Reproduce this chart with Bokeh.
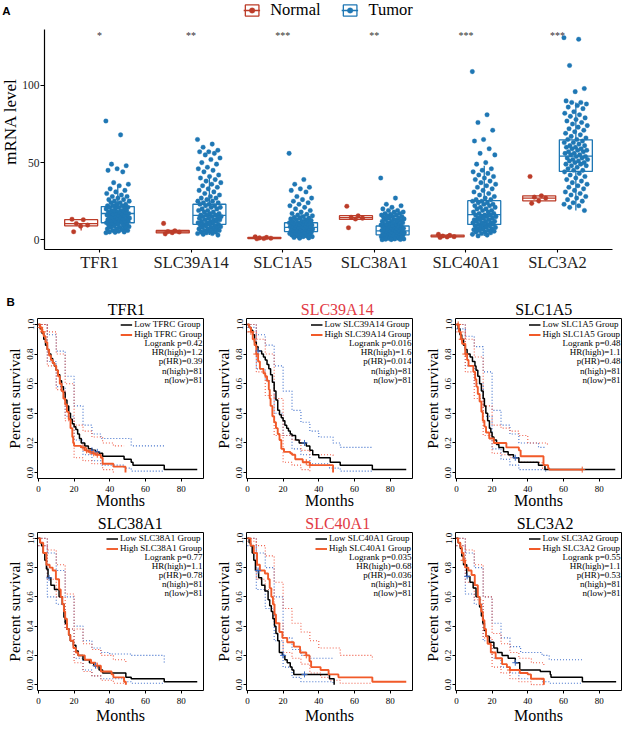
import math
import numpy as np
from bokeh.plotting import figure
from bokeh.layouts import column, row
from bokeh.models import (Range1d, FixedTicker, Label, Legend, LegendItem,
                          PrintfTickFormatter)
from bokeh.core.properties import value
from bokeh.embed import file_html
from bokeh.resources import INLINE

SERIF = "Liberation Serif"
SANS = "Liberation Sans"

# ---------------- Panel A data ----------------
genes = ["TFR1", "SLC39A14", "SLC1A5", "SLC38A1", "SLC40A1", "SLC3A2"]
stars = ["*", "**", "***", "**", "***", "***"]
y_ticks_A = [0, 50, 100]

TFR1_normal = [13.3, 13.0, 10.5, 9.5, 8.8, 5.2]
SLC39A14_normal = [10.6, 5.8, 5.3, 5.0, 4.6, 3.8]
SLC1A5_normal = [1.9, 1.5, 1.2, 1.0, 0.8, 0.6]
SLC38A1_normal = [21.7, 15.5, 14.6, 14.0, 13.4, 7.8]
SLC40A1_normal = [3.5, 2.8, 2.4, 2.0, 1.8, 1.5]
SLC3A2_normal = [41.0, 28.5, 27.6, 27.0, 25.2, 23.6]

TFR1_tumor = [77, 68, 49, 48, 46, 45, 44, 37, 36, 35, 33, 32, 31, 30, 29, 28, 28, 27, 26, 26,
              25, 25, 24, 24, 23, 23, 22, 22, 22, 21, 21, 21, 20, 20, 20, 19, 19, 19, 18, 18,
              18, 18, 17, 17, 17, 17, 16, 16, 16, 16, 15, 15, 15, 15, 14, 14, 14, 14, 13, 13,
              13, 13, 12, 12, 12, 12, 11, 11, 11, 11, 10, 10, 10, 9.5, 9, 9, 8.5, 8, 8, 7.5,
              7, 7, 6.5, 6, 6, 5.5, 5, 5, 4.8, 4.5]
SLC39A14_tumor = [65, 62, 60, 58, 57, 57, 56, 55, 53, 52, 50, 49, 47, 46, 45, 44, 42, 41, 40, 39,
                  38, 37, 36, 35, 34, 33, 32, 31, 30, 29, 28, 27, 27, 26, 25, 25, 24, 24, 23, 23,
                  22, 22, 21, 21, 20, 20, 19, 19, 18, 18, 17, 17, 16, 16, 16, 15, 15, 15, 14, 14,
                  14, 13, 13, 13, 12, 12, 12, 11, 11, 11, 10, 10, 10, 9.5, 9, 9, 8.5, 8, 8, 7.5,
                  7, 7, 6.5, 6, 6, 5.5, 5, 5, 4.5, 4, 4, 3.5, 3]
SLC1A5_tumor = [56, 39, 36, 34, 33, 32, 31, 28, 27, 26, 25, 24, 23, 22, 21, 20, 19, 18, 17, 16.5,
                16, 15.5, 15, 14.5, 14, 14, 13.5, 13, 13, 12.5, 12, 12, 11.5, 11, 11, 11, 10.5,
                10.5, 10, 10, 10, 9.5, 9.5, 9, 9, 9, 8.5, 8.5, 8, 8, 8, 7.5, 7.5, 7, 7, 7, 6.5,
                6.5, 6, 6, 6, 5.5, 5.5, 5, 5, 5, 4.5, 4.5, 4, 4, 3.5, 3.5, 3, 3, 2.5, 2.5, 2, 2,
                1.5, 1.2, 1]
SLC38A1_tumor = [40, 27, 23, 22, 21, 20, 19, 19, 18, 18, 17, 17, 16.5, 16, 16, 15.5, 15, 15, 14.5,
                 14, 14, 13.5, 13, 13, 12.5, 12, 12, 11.5, 11, 11, 10.5, 10, 10, 9.5, 9.5, 9, 9,
                 8.5, 8.5, 8, 8, 7.5, 7.5, 7, 7, 6.5, 6.5, 6, 6, 6, 5.5, 5.5, 5, 5, 5, 4.5, 4.5,
                 4, 4, 4, 3.5, 3.5, 3, 3, 3, 2.5, 2.5, 2, 2, 2, 1.5, 1.5, 1, 1, 1, 0.8, 0.5, 0.5,
                 0.3, 0.2, 0.1, 0]
SLC40A1_tumor = [109, 81, 76, 71, 65, 64, 59, 56, 55, 50, 49, 46, 45, 44, 43, 42, 41, 40, 39, 38,
                 37, 36, 35, 34, 33, 32, 31, 30, 29, 28, 27, 26, 26, 25, 25, 24, 24, 23, 23, 22,
                 22, 21, 21, 20, 20, 19, 19, 18, 18, 17, 17, 16, 16, 16, 15, 15, 15, 14, 14, 14,
                 13, 13, 13, 12, 12, 12, 11, 11, 11, 10, 10, 10, 9.5, 9, 9, 8.5, 8, 8, 7.5, 7, 7,
                 6.5, 6, 6, 5.5, 5, 5, 4.5, 4, 3.5, 3, 2.5]
SLC3A2_tumor = [131, 130, 113, 98, 96, 90, 89, 89, 88, 87, 86, 85, 83, 82, 81, 80, 79, 78, 77, 76,
                75, 74, 73, 72, 71, 70, 69, 68, 67, 66, 65, 65, 64, 63, 63, 62, 61, 61, 60, 60,
                59, 59, 58, 58, 57, 57, 56, 56, 55, 55, 54, 54, 53, 53, 52, 52, 51, 51, 50, 50,
                49, 49, 48, 48, 47, 46, 45, 45, 44, 43, 42, 41, 40, 39, 38, 37, 36, 35, 34, 33,
                32, 31, 30, 29, 28, 27, 26, 25, 24, 23, 22, 21, 19]

# box stats: (lower whisker, q1, median, q3, upper whisker)
normal_box = [(6.0, 9.0, 10.5, 13.0, 13.3), (3.8, 4.4, 5.1, 6.0, 6.5), (0.6, 0.8, 1.1, 1.5, 1.9),
              (13.0, 13.2, 14.3, 15.6, 15.8), (1.5, 1.8, 2.4, 3.0, 3.5), (23.6, 25.2, 27.0, 28.5, 28.8)]
tumor_box = [(4.5, 11.0, 17.0, 21.5, 35.0), (3.0, 10.0, 15.8, 23.0, 42.0), (1.0, 5.3, 8.0, 11.0, 19.0),
             (0.0, 3.2, 5.7, 8.9, 17.0), (2.5, 9.9, 16.3, 25.3, 48.0), (19.0, 44.3, 54.2, 64.8, 89.0)]

normal_pts = [TFR1_normal, SLC39A14_normal, SLC1A5_normal, SLC38A1_normal, SLC40A1_normal, SLC3A2_normal]
tumor_pts = [TFR1_tumor, SLC39A14_tumor, SLC1A5_tumor, SLC38A1_tumor, SLC40A1_tumor, SLC3A2_tumor]

# ---------------- Panel B data (Kaplan-Meier) ----------------
KM_XTICKS = [0, 20, 40, 60, 80]
KM_YTICKS = [0.0, 0.2, 0.4, 0.6, 0.8, 1.0]

TFR1_low = [(0,1.0),(1,0.97),(2,0.94),(3,0.9),(4,0.86),(5,0.83),(6,0.8),(7,0.77),(8,0.74),(9,0.72),(10,0.69),(11,0.66),(12,0.62),(13,0.58),(14,0.54),(15,0.49),(16,0.45),(17,0.4),(18,0.36),(19,0.33),(20,0.31),(21,0.29),(22,0.26),(23,0.23),(24,0.2),(26,0.18),(28,0.16),(30,0.15),(32,0.14),(34,0.13),(36,0.11),(48,0.09),(52,0.07),(53,0.05),(70.5,0.02),(89,0.02)]
TFR1_high = [(0,1.0),(1,0.98),(2,0.95),(3,0.92),(4,0.88),(5,0.83),(6,0.79),(7,0.76),(8,0.74),(9,0.72),(10,0.69),(11,0.65),(12,0.6),(13,0.55),(14,0.5),(15,0.46),(16,0.41),(17,0.36),(18,0.3),(19,0.24),(19.5,0.2),(20,0.18),(24,0.17),(26,0.15),(28,0.14),(30,0.13),(32,0.12),(35,0.1),(36,0.06),(42,0.04),(48.8,0.0)]
TFR1_low_up = [(0,1),(5,0.93),(10,0.82),(15,0.65),(20,0.45),(25,0.32),(30,0.26),(35,0.23),(52,0.18),(70.5,0.18)]
TFR1_low_lo = [(0,1),(5,0.75),(10,0.58),(15,0.38),(20,0.22),(25,0.12),(30,0.08),(35,0.05),(48,0.03),(52,0.01),(70.5,0.01)]
TFR1_high_up = [(0,1),(5,0.95),(10,0.8),(15,0.6),(20,0.32),(25,0.28),(30,0.24),(36,0.2),(42,0.18),(48,0.18)]
TFR1_high_lo = [(0,1),(5,0.72),(10,0.56),(15,0.35),(20,0.1),(25,0.08),(30,0.06),(36,0.02),(42,0.0)]
TFR1_low_cens = [30, 33]
TFR1_high_cens = [1, 2.5, 25, 27, 29, 31, 33]

SLC39A14_low = [(0,1.0),(1,0.98),(2,0.96),(3,0.93),(4,0.88),(5,0.85),(6,0.82),(8,0.8),(9,0.78),(10,0.76),(11,0.73),(12,0.7),(13,0.66),(14,0.61),(15,0.55),(16,0.49),(17,0.42),(18,0.39),(19,0.37),(20,0.35),(21,0.32),(22,0.3),(23,0.28),(24,0.26),(25,0.25),(27,0.22),(29,0.2),(33,0.18),(35,0.15),(36.6,0.12),(40,0.1),(46.4,0.07),(52,0.05),(70,0.02),(89,0.02)]
SLC39A14_high = [(0,1.0),(1,0.98),(2,0.95),(3,0.9),(4,0.86),(5,0.8),(6,0.75),(7,0.7),(9,0.67),(10,0.65),(11,0.62),(12,0.56),(12.5,0.5),(13,0.45),(14,0.38),(15,0.34),(16,0.3),(17,0.26),(18,0.22),(19,0.16),(20.5,0.14),(24,0.13),(25,0.12),(26.8,0.09),(31,0.07),(35,0.05),(48,0.0)]
SLC39A14_low_up = [(0,1),(5,0.93),(10,0.86),(15,0.72),(20,0.55),(25,0.42),(30,0.34),(35,0.28),(40,0.24),(48,0.2),(52,0.17),(70,0.17)]
SLC39A14_low_lo = [(0,0.98),(5,0.7),(10,0.62),(15,0.4),(20,0.25),(25,0.16),(30,0.12),(35,0.06),(46,0.03),(52,0.01),(70,0.01)]
SLC39A14_high_up = [(0,1),(5,0.9),(10,0.8),(15,0.5),(20,0.25),(25,0.22),(30,0.15),(35,0.12),(48,0.1)]
SLC39A14_high_lo = [(0,0.95),(5,0.68),(10,0.52),(15,0.25),(20,0.07),(25,0.05),(30,0.02),(35,0.0)]
SLC39A14_low_cens = [6, 32]
SLC39A14_high_cens = [2, 5, 33, 35]

SLC1A5_low = [(0,1.0),(1,0.97),(2,0.93),(3,0.9),(4,0.86),(5,0.83),(6,0.8),(7.7,0.78),(9,0.75),(10.4,0.72),(11,0.69),(12,0.65),(13,0.6),(14,0.55),(15,0.5),(15.7,0.45),(16.5,0.4),(17.5,0.35),(18.5,0.3),(19.3,0.27),(20,0.24),(21,0.22),(22.5,0.19),(23.8,0.17),(26.4,0.14),(29,0.12),(32,0.1),(35,0.07),(46,0.05),(49.6,0.02),(89,0.02)]
SLC1A5_high = [(0,1.0),(1.4,0.95),(2.5,0.9),(3.2,0.87),(5,0.8),(6,0.76),(6.8,0.72),(9.5,0.68),(10.5,0.63),(11.2,0.58),(12,0.53),(13,0.48),(14,0.41),(14.8,0.35),(15.7,0.31),(16.6,0.27),(18.4,0.23),(21,0.2),(28,0.17),(35,0.15),(36,0.11),(47.9,0.11),(48.8,0.05),(51.4,0.03),(52,0.02),(70.5,0.02)]
SLC1A5_low_up = [(0,1),(5,0.92),(10,0.85),(15,0.68),(20,0.42),(25,0.32),(30,0.26),(35,0.2),(46,0.17),(50,0.17)]
SLC1A5_low_lo = [(0,0.97),(5,0.72),(10,0.6),(15,0.38),(20,0.16),(25,0.09),(30,0.05),(35,0.02),(50,0.0)]
SLC1A5_high_up = [(0,1),(5,0.9),(10,0.78),(15,0.45),(20,0.32),(25,0.3),(30,0.28),(35,0.25),(40,0.2),(48,0.2),(51,0.19)]
SLC1A5_high_lo = [(0,0.95),(5,0.68),(10,0.5),(15,0.25),(20,0.13),(25,0.12),(30,0.1),(35,0.07),(48,0.03),(51,0.01)]
SLC1A5_low_cens = [33]
SLC1A5_high_cens = [1, 3, 5, 70.5]

SLC38A1_low = [(0,1.0),(1,0.97),(1.8,0.95),(2.7,0.9),(3.6,0.85),(4.5,0.79),(5.4,0.73),(7,0.68),(9,0.65),(11.6,0.6),(13.4,0.55),(14.3,0.46),(15,0.42),(16,0.38),(17,0.34),(17.9,0.3),(19.6,0.27),(21,0.23),(22.3,0.2),(25,0.17),(28.6,0.15),(31,0.13),(34,0.1),(36,0.08),(49,0.05),(52,0.04),(70.5,0.02),(89,0.02)]
SLC38A1_high = [(0,1.0),(1,0.97),(2.7,0.9),(4.5,0.82),(6.3,0.8),(8,0.78),(9.8,0.72),(11.6,0.65),(12.5,0.6),(13.4,0.55),(14.3,0.5),(15,0.45),(16,0.38),(17,0.34),(17.9,0.3),(19.6,0.25),(21,0.22),(22.3,0.2),(26,0.17),(29.5,0.15),(32,0.13),(35,0.09),(41,0.07),(42,0.05),(48,0.02),(49,0.0)]
SLC38A1_low_up = [(0,1),(5,0.9),(10,0.78),(15,0.6),(20,0.4),(25,0.3),(30,0.25),(35,0.22),(40,0.21),(52,0.2),(70.5,0.15)]
SLC38A1_low_lo = [(0,0.95),(5,0.6),(10,0.55),(15,0.38),(20,0.18),(25,0.1),(30,0.06),(35,0.04),(48,0.02),(52,0.01),(70.5,0.01)]
SLC38A1_high_up = [(0,1),(5,0.92),(10,0.82),(15,0.62),(20,0.38),(25,0.28),(30,0.24),(35,0.2),(42,0.17),(49,0.15)]
SLC38A1_high_lo = [(0,0.95),(5,0.72),(10,0.6),(15,0.38),(20,0.15),(25,0.09),(30,0.06),(35,0.03),(42,0.01),(49,0.0)]
SLC38A1_low_cens = [6, 32]
SLC38A1_high_cens = [33]

SLC40A1_low = [(0,1.0),(1,0.97),(1.8,0.95),(2.7,0.9),(3.6,0.85),(4.5,0.78),(6.3,0.73),(8,0.68),(9.8,0.64),(11.6,0.58),(12.5,0.54),(13.4,0.5),(14.3,0.45),(15.2,0.4),(16,0.35),(17,0.3),(17.9,0.22),(19.6,0.2),(21,0.17),(22.3,0.15),(24,0.12),(25,0.1),(26,0.07),(46,0.04),(48.6,0.0)]
SLC40A1_high = [(0,1.0),(1.8,0.95),(3.6,0.9),(5.4,0.82),(7,0.78),(9.8,0.76),(11.6,0.72),(12.5,0.66),(13.4,0.6),(14.3,0.55),(15.2,0.48),(16,0.42),(17.9,0.36),(19.6,0.32),(22.3,0.29),(26,0.26),(29.5,0.22),(33,0.2),(34.8,0.16),(35.7,0.12),(41,0.1),(45.5,0.07),(51,0.05),(70,0.02),(89,0.02)]
SLC40A1_low_up = [(0,1),(5,0.9),(10,0.8),(15,0.6),(20,0.32),(25,0.24),(30,0.2),(35,0.18),(48,0.18)]
SLC40A1_low_lo = [(0,0.95),(5,0.65),(10,0.52),(15,0.3),(20,0.12),(25,0.05),(30,0.02),(48,0.01)]
SLC40A1_high_up = [(0,1),(5,0.95),(10,0.88),(15,0.7),(20,0.52),(25,0.42),(30,0.36),(35,0.3),(40,0.25),(52,0.2),(70,0.17)]
SLC40A1_high_lo = [(0,0.98),(5,0.72),(10,0.65),(15,0.42),(20,0.22),(25,0.18),(30,0.14),(35,0.08),(41,0.05),(46,0.03),(52,0.01),(70,0.01)]
SLC40A1_low_cens = [6, 20, 32]
SLC40A1_high_cens = [33]

SLC3A2_low = [(0,1.0),(1,0.97),(2.2,0.93),(3,0.88),(4,0.82),(5.8,0.74),(7.6,0.7),(9.4,0.66),(11,0.6),(13,0.53),(14,0.47),(14.8,0.42),(15.7,0.37),(16.6,0.33),(18.4,0.29),(21,0.25),(23,0.22),(25.6,0.2),(29,0.18),(33,0.15),(35.5,0.1),(47,0.09),(52.6,0.07),(53,0.05),(70.6,0.02),(89.5,0.02)]
SLC3A2_high = [(0,1.0),(1,0.97),(2.2,0.94),(3,0.9),(4,0.85),(4.9,0.8),(6.7,0.78),(8.5,0.75),(10.3,0.68),(12,0.6),(13,0.55),(13.9,0.5),(14.8,0.44),(15.7,0.38),(16.6,0.33),(17.5,0.28),(19.3,0.22),(22,0.18),(25.6,0.14),(28.3,0.12),(30,0.1),(35.5,0.08),(40,0.07),(41.8,0.04),(49,0.0)]
SLC3A2_low_up = [(0,1),(5,0.9),(10,0.8),(15,0.6),(20,0.42),(25,0.32),(30,0.26),(36,0.22),(48,0.2),(52,0.17),(70.6,0.17)]
SLC3A2_low_lo = [(0,0.95),(5,0.62),(10,0.55),(15,0.3),(20,0.18),(25,0.12),(30,0.08),(35,0.04),(48,0.02),(52,0.01),(70.6,0.01)]
SLC3A2_high_up = [(0,1),(5,0.92),(10,0.82),(15,0.6),(20,0.35),(25,0.28),(30,0.22),(35,0.18),(42,0.15),(49,0.12)]
SLC3A2_high_lo = [(0,0.95),(5,0.7),(10,0.58),(15,0.32),(20,0.12),(25,0.08),(30,0.04),(35,0.02),(42,0.0),(49,0.0)]
SLC3A2_low_cens = [6, 33]
SLC3A2_high_cens = [4, 30]

km_titles = ["TFR1", "SLC39A14", "SLC1A5", "SLC38A1", "SLC40A1", "SLC3A2"]
km_title_red = [False, True, False, False, True, False]
km_group_names = ["TFRC", "SLC39A14", "SLC1A5", "SLC38A1", "SLC40A1", "SLC3A2"]
km_logrank = ["0.42", "0.016", "0.48", "0.77", "0.035", "0.55"]
km_hr = ["1.2", "1.6", "1.1", "1.1", "0.68", "1.1"]
km_phr = ["0.39", "0.014", "0.48", "0.78", "0.036", "0.53"]
km_nhigh = [81, 81, 81, 81, 81, 81]
km_nlow = [81, 81, 81, 81, 81, 81]
km_curves = [
    (TFR1_low, TFR1_high, TFR1_low_up, TFR1_low_lo, TFR1_high_up, TFR1_high_lo, TFR1_low_cens, TFR1_high_cens),
    (SLC39A14_low, SLC39A14_high, SLC39A14_low_up, SLC39A14_low_lo, SLC39A14_high_up, SLC39A14_high_lo, SLC39A14_low_cens, SLC39A14_high_cens),
    (SLC1A5_low, SLC1A5_high, SLC1A5_low_up, SLC1A5_low_lo, SLC1A5_high_up, SLC1A5_high_lo, SLC1A5_low_cens, SLC1A5_high_cens),
    (SLC38A1_low, SLC38A1_high, SLC38A1_low_up, SLC38A1_low_lo, SLC38A1_high_up, SLC38A1_high_lo, SLC38A1_low_cens, SLC38A1_high_cens),
    (SLC40A1_low, SLC40A1_high, SLC40A1_low_up, SLC40A1_low_lo, SLC40A1_high_up, SLC40A1_high_lo, SLC40A1_low_cens, SLC40A1_high_cens),
    (SLC3A2_low, SLC3A2_high, SLC3A2_low_up, SLC3A2_low_lo, SLC3A2_high_up, SLC3A2_high_lo, SLC3A2_low_cens, SLC3A2_high_cens),
]

# ---------------- styles ----------------
RED = "#BC3C29"
BLUE = "#1F77B4"
HIGH = "#F15A29"
CI_BLUE = "#3F6FCB"
CI_RED = "#EF5A45"
TITLE_RED = "#E23A45"


def strip(width, height):
    """A blank figure whose whole canvas is its frame, used to hold free text."""
    s = figure(width=width, height=height, x_range=Range1d(0, width), y_range=Range1d(0, height),
               x_axis_type=None, y_axis_type=None, output_backend="svg", toolbar_location=None,
               min_border_left=0, min_border_right=0, min_border_top=0, min_border_bottom=0)
    s.outline_line_color = None
    s.grid.visible = False
    return s


# ================= Panel A figure =================
STRIP_A_W = 19
Y_LO, Y_HI, Y_AXIS_TOP = -6.33, 155.1, 136.1
pA = figure(width=627 - STRIP_A_W, height=288, x_range=Range1d(0.4, 6.6),
            y_range=Range1d(Y_LO, Y_HI), output_backend="svg", toolbar_location=None,
            min_border_left=41 - STRIP_A_W, min_border_right=15, min_border_top=0,
            min_border_bottom=39)
pA.outline_line_color = None
pA.grid.visible = False

DODGE, HALF_W = 0.2, 0.18
JIT_N, JIT_T = 0.1, 0.13


def jitter(n, w):
    return [((i * 0.6180339887) % 1.0 - 0.5) * 2 * w for i in range(n)]


legend_r = {}
for grp, boxes, pts, col, dx, jw in (("Normal", normal_box, normal_pts, RED, -DODGE, JIT_N),
                                       ("Tumor", tumor_box, tumor_pts, BLUE, DODGE, JIT_T)):
    cx = [i + 1 + dx for i in range(len(genes))]
    lo = [b[0] for b in boxes]
    q1 = [b[1] for b in boxes]
    md = [b[2] for b in boxes]
    q3 = [b[3] for b in boxes]
    hi = [b[4] for b in boxes]
    pA.segment(x0=cx, y0=q3, x1=cx, y1=hi, line_color=col, line_width=1.3)
    pA.segment(x0=cx, y0=lo, x1=cx, y1=q1, line_color=col, line_width=1.3)
    qr = pA.quad(left=[c - HALF_W for c in cx], right=[c + HALF_W for c in cx], bottom=q1, top=q3,
                 fill_color="white", line_color=col, line_width=1.3)
    mr = pA.segment(x0=[c - HALF_W for c in cx], y0=md, x1=[c + HALF_W for c in cx], y1=md,
                    line_color=col, line_width=1.3)
    xs, ys = [], []
    for i, vals in enumerate(pts):
        offs = jitter(len(vals), jw)
        xs += [cx[i] + o for o in offs]
        ys += list(vals)
    sr = pA.scatter(xs, ys, size=4.6, fill_color=col, line_color=col, line_width=0.3)
    legend_r[grp] = [qr, mr, sr]

STAR_Y = 132.5
pA.text(x=[i + 1 for i in range(len(genes))], y=[STAR_Y] * len(genes), text=stars,
        text_font=value(SERIF), text_font_size=value("10px"), text_align="center",
        text_baseline="middle", text_color="#333333")

pA.xaxis.ticker = FixedTicker(ticks=[i + 1 for i in range(len(genes))])
pA.xaxis.major_label_overrides = {i + 1: g for i, g in enumerate(genes)}
pA.yaxis.ticker = FixedTicker(ticks=y_ticks_A)
pA.yaxis.bounds = (Y_LO, Y_AXIS_TOP)
for ax in (pA.xaxis[0], pA.yaxis[0]):
    ax.axis_line_color = "black"
    ax.axis_line_width = 1.2
    ax.major_tick_line_color = "black"
    ax.major_tick_line_width = 1.1
    ax.major_tick_in = 0
    ax.minor_tick_line_color = None
    ax.major_label_text_font = SERIF
    ax.major_label_text_color = "#222222"
pA.xaxis.major_tick_out = 3
pA.xaxis.major_label_text_font_size = "16.5px"
pA.xaxis.major_label_standoff = 0
pA.yaxis.major_tick_out = 4
pA.yaxis.major_label_text_font_size = "11.5px"
pA.yaxis.major_label_standoff = 1

legA = Legend(items=[LegendItem(label="Normal", renderers=legend_r["Normal"]),
                     LegendItem(label="Tumor", renderers=legend_r["Tumor"])],
              location="top_center", orientation="horizontal", margin=0, padding=0,
              spacing=21, glyph_width=17, glyph_height=14, label_standoff=10,
              label_text_font=SERIF, label_text_font_size="16.5px", label_text_color="black",
              border_line_color=None, background_fill_alpha=0)
pA.add_layout(legA)

# left strip holding the panel letter and the y-axis title of panel A
sA = strip(STRIP_A_W, 288)
sA.add_layout(Label(x=5.9, y=288 - 12.7, text="A", text_align="center",
                    text_baseline="alphabetic", text_font=SANS, text_font_style="bold",
                    text_font_size="11.5px", text_color="black"))
sA.add_layout(Label(x=9.5, y=288 - 140.0, text="mRNA level", angle=math.pi / 2,
                    text_align="center", text_baseline="middle", text_font=SERIF,
                    text_font_size="17px", text_color="black"))

# ================= Panel B figures =================
X_LO, X_HI = -0.5, 92.5
PX_PER_UNIT = 160 / 1.08


def km_lookup(pairs, t):
    ts = np.array([p[0] for p in pairs])
    ss = np.array([p[1] for p in pairs])
    idx = np.searchsorted(ts, t, side="right") - 1
    return float(ss[max(idx, 0)])


def km_panel(k, height, bbot, months_standoff):
    low, high, lup, llo, hup, hlo, lc, hc = km_curves[k]
    p = figure(width=209, height=height, x_range=Range1d(X_LO, X_HI), y_range=Range1d(-0.04, 1.04),
               output_backend="svg", toolbar_location=None,
               min_border_left=37, min_border_right=6, min_border_top=0, min_border_bottom=bbot)
    p.grid.visible = False
    p.outline_line_color = "black"
    p.outline_line_width = 1
    for ax in (p.xaxis[0], p.yaxis[0]):
        ax.axis_line_color = None
        ax.major_tick_line_color = "black"
        ax.major_tick_out = 3
        ax.major_tick_in = 0
        ax.minor_tick_line_color = None
        ax.major_label_text_font = SERIF
        ax.major_label_text_font_size = "9px"
        ax.major_label_text_color = "black"
        ax.axis_label_text_font = SERIF
        ax.axis_label_text_font_style = "normal"
        ax.axis_label_text_color = "black"
    p.xaxis.ticker = FixedTicker(ticks=KM_XTICKS)
    p.yaxis.ticker = FixedTicker(ticks=KM_YTICKS)
    p.yaxis.formatter = PrintfTickFormatter(format="%.1f")
    p.yaxis.major_label_orientation = "vertical"
    p.xaxis.major_label_standoff = 4
    p.yaxis.major_label_standoff = 1
    p.xaxis.axis_label = "Months"
    p.xaxis.axis_label_text_font_size = "16px"
    p.xaxis.axis_label_standoff = months_standoff
    p.yaxis.axis_label = "Percent survival"
    p.yaxis.axis_label_text_font_size = "15.5px"
    p.yaxis.axis_label_standoff = 2

    for ci, col in ((lup, CI_BLUE), (llo, CI_BLUE), (hup, CI_RED), (hlo, CI_RED)):
        p.step([c[0] for c in ci], [c[1] for c in ci], mode="after", line_color=col,
               line_width=1.1, line_dash="1 2")
    rl = p.step([c[0] for c in low], [c[1] for c in low], mode="after", line_color="black",
                line_width=1.5)
    rh = p.step([c[0] for c in high], [c[1] for c in high], mode="after", line_color=HIGH,
                line_width=1.9)
    p.scatter(lc, [km_lookup(low, t) for t in lc], marker="cross", size=6, line_color=CI_BLUE,
              line_width=1)
    p.scatter(hc, [km_lookup(high, t) for t in hc], marker="cross", size=6, line_color=HIGH,
              line_width=1)

    g = km_group_names[k]
    leg = Legend(items=[LegendItem(label="Low %s Group" % g, renderers=[rl]),
                        LegendItem(label="High %s Group" % g, renderers=[rh])],
                 location="top_right", margin=1, padding=0, spacing=0, glyph_width=12,
                 glyph_height=9, label_height=9, label_standoff=2, label_text_font=SERIF,
                 label_text_font_size="9px", label_text_color="black",
                 border_line_color=None, background_fill_alpha=0)
    p.add_layout(leg)

    stats = ["Logrank p=%s" % km_logrank[k], "HR(high)=%s" % km_hr[k], "p(HR)=%s" % km_phr[k],
             "n(high)=%d" % km_nhigh[k], "n(low)=%d" % km_nlow[k]]
    offs_px = [18.5, 27.6, 36.7, 46.2, 55.2]
    for s, o in zip(stats, offs_px):
        p.add_layout(Label(x=X_HI, y=1.0 - o / PX_PER_UNIT, x_offset=-1, text=s,
                           text_align="right", text_baseline="middle", text_font=SERIF,
                           text_font_size="9px", text_color="black"))
    return p


def title_strip(height, idxs, xs, with_b):
    s = strip(627, height)
    for i, x in zip(idxs, xs):
        s.add_layout(Label(x=x, y=0.5, text=km_titles[i], text_align="center",
                           text_baseline="bottom", text_font=SERIF, text_font_size="16px",
                           text_color=TITLE_RED if km_title_red[i] else "black"))
    if with_b:
        s.add_layout(Label(x=10.2, y=height - 13.6, text="B", text_align="center",
                           text_baseline="alphabetic", text_font=SANS, text_font_style="bold",
                           text_font_size="11.5px", text_color="black"))
    return s


stripB1 = title_strip(30, [0, 1, 2], [125.9, 336.7, 543.3], True)
row1 = row([km_panel(k, 198, 38, -3) for k in range(3)], spacing=0)
stripB2 = title_strip(16, [3, 4, 5], [129.8, 337.2, 544.6], False)
row2 = row([km_panel(k, 194, 34, 0) for k in range(3, 6)], spacing=0)

layout = column([row([sA, pA], spacing=0), stripB1, row1, stripB2, row2], spacing=0)

open("out.html", "w").write(file_html(layout, INLINE))
